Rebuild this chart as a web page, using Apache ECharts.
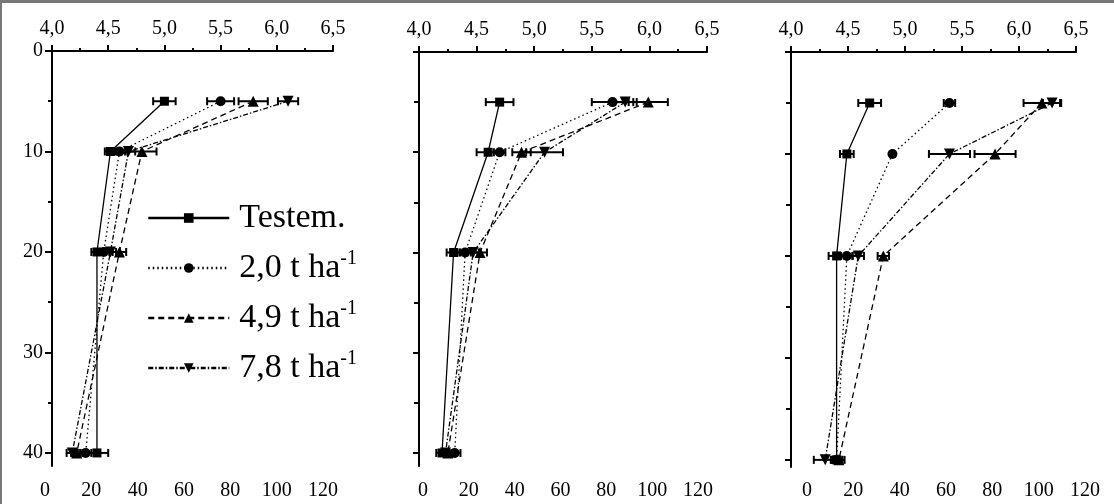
<!DOCTYPE html>
<html><head><meta charset="utf-8">
<script src="https://cdn.jsdelivr.net/npm/echarts@6/dist/echarts.min.js"></script>
<style>html,body{margin:0;padding:0;background:#fff}#c{width:1114px;height:504px}</style>
</head><body><div id="c"></div>
<script>
// ---------- DATA ----------
const depths = [5, 10, 20, 40];
const seriesNames = ['Testem.', '2,0 t ha-1', '4,9 t ha-1', '7,8 t ha-1'];
const depthTicks = [0, 10, 20, 30, 40];
const depthMinorTicks = [5, 15, 25, 35];
const bottomTicks = [0, 20, 40, 60, 80, 100, 120];

// Panel 1 (pH values at depths 5,10,20,40)
const p1Testem = [5.00, 4.52, 4.40, 4.40];
const p1Dose20 = [5.50, 4.60, 4.46, 4.30];
const p1Dose49 = [5.79, 4.80, 4.60, 4.22];
const p1Dose78 = [6.10, 4.68, 4.52, 4.18];
const p1TestemErr = [0.10, 0.05, 0.05, 0.10];
const p1Dose20Err = [0.12, 0.05, 0.05, 0.05];
const p1Dose49Err = [0.13, 0.13, 0.06, 0.05];
const p1Dose78Err = [0.09, 0.06, 0.05, 0.05];

// Panel 2
const p2Testem = [4.70, 4.60, 4.30, 4.20];
const p2Dose20 = [5.68, 4.70, 4.40, 4.31];
const p2Dose49 = [5.99, 4.89, 4.53, 4.25];
const p2Dose78 = [5.79, 5.09, 4.47, 4.23];
const p2TestemErr = [0.12, 0.10, 0.06, 0.05];
const p2Dose20Err = [0.18, 0.05, 0.05, 0.05];
const p2Dose49Err = [0.17, 0.08, 0.06, 0.05];
const p2Dose78Err = [0.10, 0.16, 0.05, 0.05];

// Panel 3
const p3Testem = [4.69, 4.49, 4.40, 4.40];
const p3Dose20 = [5.39, 4.89, 4.49, 4.40];
const p3Dose49 = [6.20, 5.79, 4.81, 4.42];
const p3Dose78 = [6.29, 5.39, 4.59, 4.30];
const p3TestemErr = [0.10, 0.06, 0.07, 0.05];
const p3Dose20Err = [0.05, 0.00, 0.05, 0.05];
const p3Dose49Err = [0.16, 0.18, 0.05, 0.05];
const p3Dose78Err = [0.08, 0.18, 0.05, 0.10];

// ---------- BUILD ----------
const panels = [
  {vals: [p1Testem, p1Dose20, p1Dose49, p1Dose78], errs: [p1TestemErr, p1Dose20Err, p1Dose49Err, p1Dose78Err]},
  {vals: [p2Testem, p2Dose20, p2Dose49, p2Dose78], errs: [p2TestemErr, p2Dose20Err, p2Dose49Err, p2Dose78Err]},
  {vals: [p3Testem, p3Dose20, p3Dose49, p3Dose78], errs: [p3TestemErr, p3Dose20Err, p3Dose49Err, p3Dose78Err]}
];
const FONT = '"Liberation Serif", "DejaVu Serif", serif';
const layout = [
  {left: 52, top: 51, width: 281, height: 415, ymax: 41.3, botLeft: 45, botWidth: 278, labels: true, majorLen: 7, minorLen: 4},
  {left: 419, top: 52, width: 288, height: 414, ymax: 41.3, botLeft: 423, botWidth: 275, labels: false, majorLen: 6, minorLen: 5},
  {left: 791, top: 52, width: 285, height: 415, ymax: 40.7, botLeft: 807, botWidth: 278, labels: false, majorLen: 6, minorLen: 5}
];
const styles = [
  {symbol: 'rect', size: 9, rotate: 0, type: 'solid'},
  {symbol: 'circle', size: 10, rotate: 0, type: [1.5, 3]},
  {symbol: 'triangle', size: 11, rotate: 0, type: [6, 4]},
  {symbol: 'triangle', size: 11, rotate: 180, type: [5, 2, 1.5, 2]}
];
const axisLine = {show: true, lineStyle: {color: '#000', width: 2}};
const grid = [], xAxis = [], yAxis = [], series = [];

layout.forEach((L, p) => {
  grid.push({left: L.left, top: L.top, width: L.width, height: L.height});
  // top pH axis
  xAxis.push({
    gridIndex: p, type: 'value', position: 'top', min: 4, max: 6.5, interval: 0.5,
    axisLine: axisLine,
    axisTick: {show: true, inside: false, length: 6, lineStyle: {color: '#000', width: 2}},
    minorTick: {show: true, splitNumber: 2, length: 3, lineStyle: {color: '#000', width: 2}},
    splitLine: {show: false}, minorSplitLine: {show: false},
    axisLabel: {show: true, margin: 12, color: '#000', fontFamily: FONT, fontSize: 20,
      formatter: v => v.toFixed(1).replace('.', ',')}
  });
  // depth axis (major)
  yAxis.push({
    gridIndex: p, type: 'value', inverse: true, min: 0, max: L.ymax,
    axisLine: axisLine,
    axisTick: {show: true, inside: false, length: L.majorLen, customValues: depthTicks, lineStyle: {color: '#000', width: 2}},
    splitLine: {show: false},
    axisLabel: {show: L.labels, customValues: depthTicks, margin: 9, color: '#000', fontFamily: FONT, fontSize: 20}
  });
  // depth axis (minor ticks)
  yAxis.push({
    gridIndex: p, type: 'value', inverse: true, min: 0, max: L.ymax, position: 'left',
    axisLine: {show: false},
    axisTick: {show: true, inside: false, length: L.minorLen, customValues: depthMinorTicks, lineStyle: {color: '#000', width: 2}},
    splitLine: {show: false}, axisLabel: {show: false}
  });
  const xi = p, yi = 2 * p;
  panels[p].vals.forEach((vals, s) => {
    const st = styles[s];
    const errs = panels[p].errs[s];
    series.push({
      type: 'custom', name: 'err' + p + '_' + s, coordinateSystem: 'cartesian2d',
      xAxisIndex: xi, yAxisIndex: yi, z: 1, silent: true,
      encode: {x: [0, 1], y: 2},
      data: vals.map((v, i) => [v - errs[i], v + errs[i], depths[i]]),
      renderItem: (params, api) => {
        const a = api.coord([api.value(0), api.value(2)]);
        const b = api.coord([api.value(1), api.value(2)]);
        if (b[0] - a[0] < 2) return null;
        const h = 4, ls = {stroke: '#000', lineWidth: 2};
        return {type: 'group', children: [
          {type: 'line', shape: {x1: a[0], y1: a[1], x2: b[0], y2: b[1]}, style: ls},
          {type: 'line', shape: {x1: a[0], y1: a[1] - h, x2: a[0], y2: a[1] + h}, style: ls},
          {type: 'line', shape: {x1: b[0], y1: b[1] - h, x2: b[0], y2: b[1] + h}, style: ls}
        ]};
      }
    });
    series.push({
      type: 'line', name: seriesNames[s], xAxisIndex: xi, yAxisIndex: yi, z: 3,
      data: vals.map((v, i) => [v, depths[i]]),
      symbol: st.symbol, symbolSize: st.size, symbolRotate: st.rotate, showAllSymbol: true,
      itemStyle: {color: '#000'},
      lineStyle: {color: '#000', width: 1.3, type: st.type},
      animation: false
    });
  });
});

// bottom label-only axes (separate small grids)
layout.forEach((L, p) => {
  const gi = grid.length;
  grid.push({left: L.botLeft, width: L.botWidth, top: 466, height: 1});
  xAxis.push({
    gridIndex: gi, type: 'value', position: 'bottom', min: 0, max: 120, interval: 20,
    axisLine: {show: false}, axisTick: {show: false}, splitLine: {show: false},
    axisLabel: {show: true, margin: 14, color: '#000', fontFamily: FONT, fontSize: 20}
  });
  yAxis.push({gridIndex: gi, type: 'value', show: false, min: 0, max: 1, splitLine: {show: false}});
});

const chart = echarts.init(document.getElementById('c'), null, {renderer: 'canvas'});
chart.setOption({
  backgroundColor: '#fff',
  animation: false,
  grid, xAxis, yAxis, series,
  legend: {
    data: seriesNames, orient: 'vertical', left: 147, top: 201, padding: 0,
    itemWidth: 81, itemHeight: 12, itemGap: 14,
    lineStyle: {width: 2.5},
    formatter: n => n === 'Testem.' ? '{a|Testem.}' : '{a|' + n.replace(' ha-1', ' ha') + '}{s|-1}',
    textStyle: {
      color: '#000', fontFamily: FONT,
      rich: {
        a: {fontFamily: FONT, fontSize: 34, lineHeight: 38, color: '#000', padding: [0, 0, 0, 5]},
        s: {fontFamily: FONT, fontSize: 20, lineHeight: 20, verticalAlign: 'top', color: '#000'}
      }
    }
  },
  graphic: [
    {type: 'rect', shape: {x: 0, y: 0, width: 1114, height: 3}, style: {fill: '#777'}, silent: true},
    {type: 'rect', shape: {x: 0, y: 0, width: 2, height: 504}, style: {fill: '#777'}, silent: true}
  ]
});
</script></body></html>
